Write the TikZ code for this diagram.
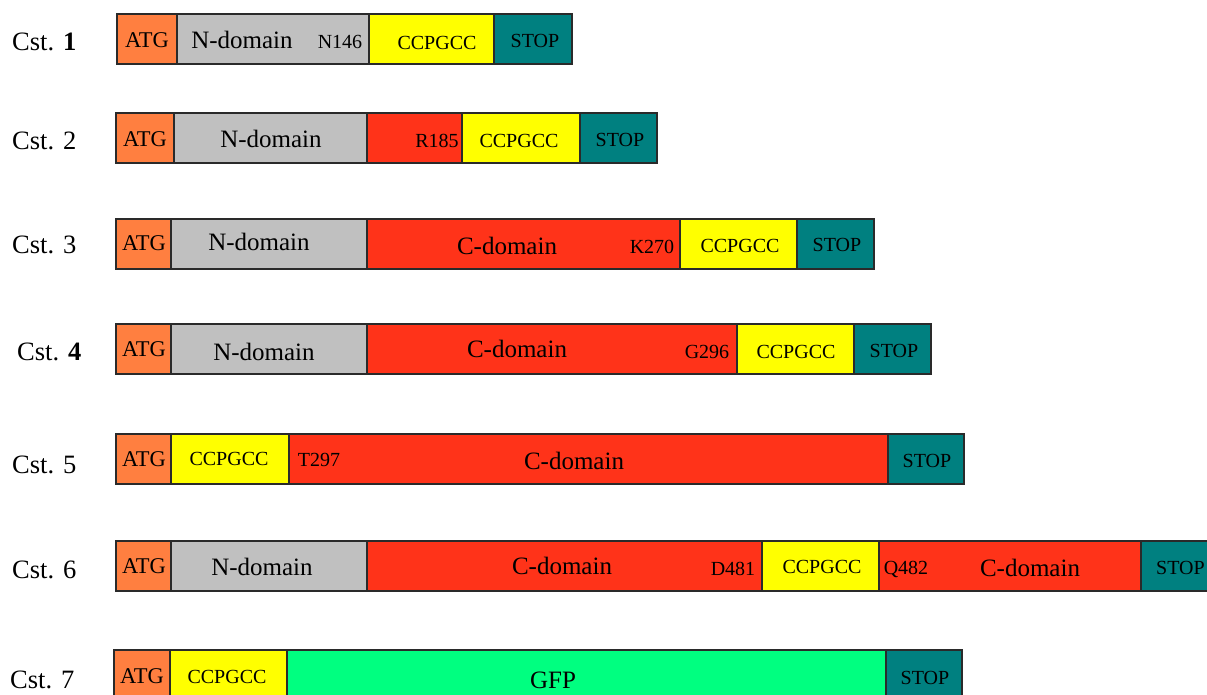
\documentclass[tikz,border=0pt]{standalone}
\usepackage{fontspec}
\setmainfont{Liberation Serif}
\definecolor{atg}{HTML}{FF7F40}
\definecolor{ndom}{HTML}{C0C0C0}
\definecolor{cdom}{HTML}{FF3319}
\definecolor{ccp}{HTML}{FFFF00}
\definecolor{stp}{HTML}{008080}
\definecolor{gfp}{HTML}{00FF80}
\definecolor{edge}{HTML}{2A2A2A}
\begin{document}
\begin{tikzpicture}[x=1pt,y=-1pt,
  seg/.style={draw=edge,line width=1.4pt,inner sep=0pt,outer sep=0pt,anchor=north west,minimum height=50pt},
  big/.style={inner sep=0pt,font=\fontsize{25}{25}\selectfont},
  sm/.style={inner sep=0pt,font=\fontsize{20}{20}\selectfont},
  atgt/.style={inner sep=0pt,font=\fontsize{22.5}{22.5}\selectfont},
  cst/.style={inner sep=0pt,anchor=west,font=\fontsize{26.5}{26.5}\selectfont}]
\useasboundingbox (0,0) rectangle (1207,695);
\clip (0,0) rectangle (1207,695);
% Row 1
\node[cst] (c1) at (12,42) {Cst. \textbf{1}};
\node[seg,fill=atg,minimum width=60pt] (r1a) at (117,14) {};
\node[seg,fill=ndom,minimum width=192pt] (r1b) at (177,14) {};
\node[seg,fill=ccp,minimum width=125pt] (r1c) at (369,14) {};
\node[seg,fill=stp,minimum width=78pt] (r1d) at (494,14) {};
\node[atgt] (t1a) at (147,40) {ATG};
\node[big] (t1b) at (242,40) {N-domain};
\node[sm] (t1c) at (340,42) {N146};
\node[sm] (t1d) at (437,43) {CCPGCC};
\node[sm] (t1e) at (535,41) {STOP};
% Row 2
\node[cst] (c2) at (12,141) {Cst. 2};
\node[seg,fill=atg,minimum width=58pt] (r2a) at (116,113) {};
\node[seg,fill=ndom,minimum width=193pt] (r2b) at (174,113) {};
\node[seg,fill=cdom,minimum width=95pt] (r2c) at (367,113) {};
\node[seg,fill=ccp,minimum width=118pt] (r2d) at (462,113) {};
\node[seg,fill=stp,minimum width=77pt] (r2e) at (580,113) {};
\node[atgt] (t2a) at (145,139) {ATG};
\node[big] (t2b) at (271,139) {N-domain};
\node[sm] (t2c) at (437,141) {R185};
\node[sm] (t2d) at (519,141) {CCPGCC};
\node[sm] (t2e) at (620,140) {STOP};
% Row 3
\node[cst] (c3) at (12,245) {Cst. 3};
\node[seg,fill=atg,minimum width=55pt] (r3a) at (116,219) {};
\node[seg,fill=ndom,minimum width=196pt] (r3b) at (171,219) {};
\node[seg,fill=cdom,minimum width=313pt] (r3c) at (367,219) {};
\node[seg,fill=ccp,minimum width=117pt] (r3d) at (680,219) {};
\node[seg,fill=stp,minimum width=77pt] (r3e) at (797,219) {};
\node[atgt] (t3a) at (144,243) {ATG};
\node[big] (t3b) at (259,242) {N-domain};
\node[big] (t3c) at (507,246) {C-domain};
\node[sm] (t3d) at (652,247) {K270};
\node[sm] (t3e) at (740,246) {CCPGCC};
\node[sm] (t3f) at (837,245) {STOP};
% Row 4
\node[cst] (c4) at (17,352) {Cst. \textbf{4}};
\node[seg,fill=atg,minimum width=55pt] (r4a) at (116,324) {};
\node[seg,fill=ndom,minimum width=196pt] (r4b) at (171,324) {};
\node[seg,fill=cdom,minimum width=370pt] (r4c) at (367,324) {};
\node[seg,fill=ccp,minimum width=117pt] (r4d) at (737,324) {};
\node[seg,fill=stp,minimum width=77pt] (r4e) at (854,324) {};
\node[atgt] (t4a) at (144,349) {ATG};
\node[big] (t4b) at (264,352) {N-domain};
\node[big] (t4c) at (517,349) {C-domain};
\node[sm] (t4d) at (707,352) {G296};
\node[sm] (t4e) at (796,352) {CCPGCC};
\node[sm] (t4f) at (894,351) {STOP};
% Row 5
\node[cst] (c5) at (12,465) {Cst. 5};
\node[seg,fill=atg,minimum width=55pt] (r5a) at (116,434) {};
\node[seg,fill=ccp,minimum width=118pt] (r5b) at (171,434) {};
\node[seg,fill=cdom,minimum width=599pt] (r5c) at (289,434) {};
\node[seg,fill=stp,minimum width=76pt] (r5d) at (888,434) {};
\node[atgt] (t5a) at (144,459) {ATG};
\node[sm] (t5b) at (229,459) {CCPGCC};
\node[sm] (t5c) at (319,460) {T297};
\node[big] (t5d) at (574,461) {C-domain};
\node[sm] (t5e) at (927,461) {STOP};
% Row 6
\node[cst] (c6) at (12,570) {Cst. 6};
\node[seg,fill=atg,minimum width=55pt] (r6a) at (116,541) {};
\node[seg,fill=ndom,minimum width=196pt] (r6b) at (171,541) {};
\node[seg,fill=cdom,minimum width=395pt] (r6c) at (367,541) {};
\node[seg,fill=ccp,minimum width=117pt] (r6d) at (762,541) {};
\node[seg,fill=cdom,minimum width=262pt] (r6e) at (879,541) {};
\node[seg,fill=stp,minimum width=77pt] (r6f) at (1141,541) {};
\node[atgt] (t6a) at (144,566) {ATG};
\node[big] (t6b) at (262,567) {N-domain};
\node[big] (t6c) at (562,566) {C-domain};
\node[sm] (t6d) at (733,569) {D481};
\node[sm] (t6e) at (822,567) {CCPGCC};
\node[sm] (t6f) at (906,569) {Q482};
\node[big] (t6g) at (1030,568) {C-domain};
\node[sm,anchor=west] (t6h) at (1156,568) {STOP};
% Row 7
\node[cst] (c7) at (10,680) {Cst. 7};
\node[seg,fill=atg,minimum width=56pt] (r7a) at (114,650) {};
\node[seg,fill=ccp,minimum width=117pt] (r7b) at (170,650) {};
\node[seg,fill=gfp,minimum width=599pt] (r7c) at (287,650) {};
\node[seg,fill=stp,minimum width=76pt] (r7d) at (886,650) {};
\node[atgt] (t7a) at (142,676) {ATG};
\node[sm] (t7b) at (227,677) {CCPGCC};
\node[big] (t7c) at (553,680) {GFP};
\node[sm] (t7d) at (925,678) {STOP};
\end{tikzpicture}
\end{document}
